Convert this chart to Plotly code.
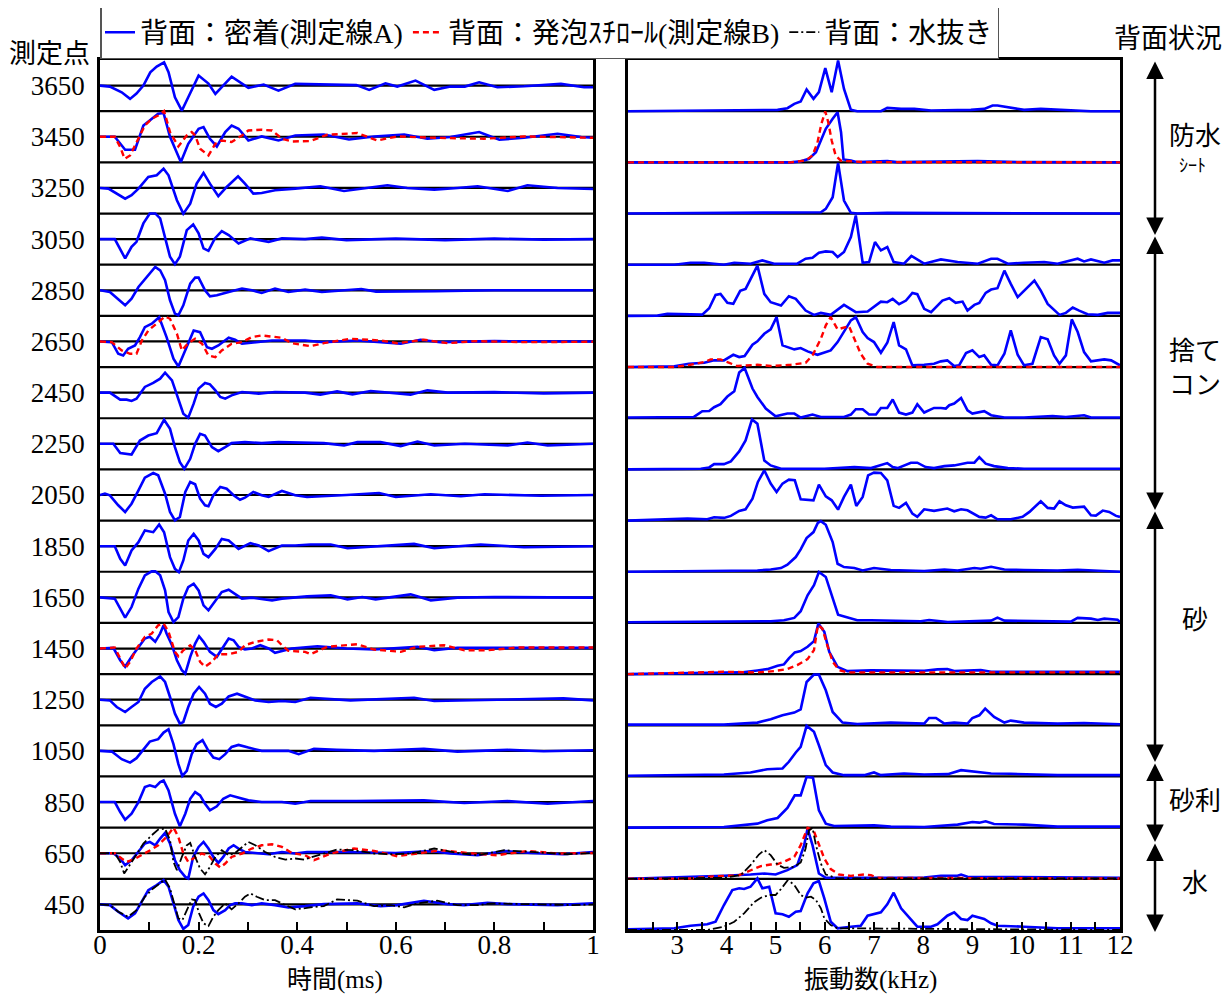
import plotly.graph_objects as go

# ---------------- data ----------------
ROW_LABELS = [3650, 3450, 3250, 3050, 2850, 2650, 2450, 2250, 2050,
              1850, 1650, 1450, 1250, 1050, 850, 650, 450]

# time waveforms: (time ms, amplitude)   A=密着, B=発泡ｽﾁﾛｰﾙ, W=水抜き
wave_A_3650 = [(0,0),(0.02,-1),(0.044,-6.7),(0.061,-13.3),(0.074,-8),(0.088,0),(0.102,13.3),(0.115,19),(0.13,23.3),(0.139,13.3),(0.152,-11.7),(0.166,-25),(0.179,-11.7),(0.2,10),(0.22,2),(0.234,-8.3),(0.267,9),(0.301,-2.3),(0.332,1),(0.362,-5),(0.396,1.7),(0.45,1),(0.52,0.5),(0.546,-4.3),(0.579,2.3),(0.603,-1),(0.64,5),(0.678,-4.3),(0.711,-1),(0.74,-1),(0.769,3.3),(0.806,-1.7),(0.86,-0.7),(0.935,1.7),(0.982,-1.7),(1.0,-1.7)]
wave_A_3450 = [(0,0),(0.03,0),(0.051,-13),(0.071,-13),(0.088,11.3),(0.105,18),(0.118,23),(0.129,23.7),(0.142,0),(0.164,-25.3),(0.179,-7),(0.2,8),(0.21,9.7),(0.223,-2),(0.237,-9.7),(0.254,4.7),(0.267,11.3),(0.281,8),(0.301,-3.7),(0.328,0.3),(0.362,-3.7),(0.396,1.3),(0.454,2.3),(0.505,-2.7),(0.556,0.3),(0.617,2.3),(0.664,-2),(0.711,-0.3),(0.769,4.7),(0.81,-3),(0.86,-1),(0.928,3),(0.976,-0.3),(1.0,-1)]
wave_B_3450 = [(0,0),(0.03,0),(0.041,-10.3),(0.05,-22),(0.061,-18.7),(0.078,-2),(0.091,11.3),(0.105,18),(0.118,21.3),(0.13,25.7),(0.142,4.7),(0.159,-9.7),(0.176,1.3),(0.186,4.7),(0.193,1.3),(0.203,-12),(0.22,-18.7),(0.234,-7),(0.247,-3.7),(0.267,-5.3),(0.288,1.3),(0.301,6.3),(0.328,7),(0.349,6.3),(0.369,-2),(0.389,-4.7),(0.427,-4.3),(0.461,2),(0.522,3.7),(0.562,-3.7),(0.603,0.3),(0.68,-1),(0.779,-2),(0.86,0.3),(0.95,-0.3),(1.0,-1)]
wave_A_3250 = [(0,0),(0.017,-0.7),(0.051,-10.7),(0.064,-7.3),(0.078,-0.7),(0.098,11),(0.115,12.7),(0.129,19.3),(0.139,12.7),(0.156,-12.3),(0.169,-25.7),(0.183,-15.7),(0.196,4.3),(0.21,15),(0.223,4.3),(0.24,-8.3),(0.257,1),(0.28,11.7),(0.294,4.3),(0.311,-5.7),(0.328,-5),(0.355,-2.3),(0.396,-0.7),(0.447,1.7),(0.495,-3),(0.535,-0.7),(0.583,2.7),(0.623,0),(0.678,-1.7),(0.725,0),(0.766,1.7),(0.827,-3),(0.867,2.7),(0.928,0),(1.0,-1)]
wave_A_3050 = [(0,0),(0.03,0),(0.051,-19.3),(0.064,-7.7),(0.074,-2.7),(0.088,15.7),(0.101,25.7),(0.112,25.7),(0.122,20.7),(0.132,2.3),(0.142,-17.7),(0.152,-25),(0.162,-17.7),(0.176,9),(0.189,14.7),(0.2,5.7),(0.21,-9.3),(0.22,-11.7),(0.233,0.7),(0.247,8),(0.261,4),(0.281,-4.3),(0.305,0.7),(0.342,-2.7),(0.369,0.7),(0.416,0),(0.45,1.5),(0.5,-1),(0.6,0.5),(0.7,-1),(0.8,0.5),(0.9,-0.5),(1.0,0)]
wave_A_2850 = [(0,0),(0.02,-1.7),(0.051,-15),(0.064,-8.3),(0.078,3.3),(0.098,15),(0.112,23.3),(0.122,20),(0.132,10),(0.142,-10),(0.152,-23.3),(0.159,-25),(0.169,-15),(0.183,6.7),(0.193,12.7),(0.2,12.7),(0.213,0),(0.223,-6),(0.237,-5),(0.261,-1.7),(0.288,1.7),(0.308,0),(0.328,-2.7),(0.355,1.7),(0.382,-1.7),(0.416,0.7),(0.45,-1.7),(0.53,1.3),(0.56,-1.3),(0.68,-1),(0.8,0),(1.0,0)]
wave_A_2650 = [(0,0),(0.024,-0.7),(0.037,-12.3),(0.047,-14),(0.057,-7.3),(0.071,-4),(0.081,4.3),(0.091,14.3),(0.105,17.7),(0.12,24.3),(0.135,4.3),(0.149,-17.3),(0.159,-25),(0.173,-9),(0.19,11),(0.203,9.3),(0.217,-5.7),(0.227,-7.3),(0.24,-4),(0.261,3.7),(0.274,1.7),(0.288,-2.3),(0.315,-0.7),(0.349,1),(0.416,1),(0.454,-0.7),(0.522,1),(0.61,-2.3),(0.65,1.7),(0.69,-0.7),(0.8,0.3),(1.0,0)]
wave_B_2650 = [(0,0),(0.024,-0.7),(0.044,-9),(0.061,-12.3),(0.074,-12.3),(0.085,1),(0.098,11),(0.118,19.3),(0.132,25),(0.142,22.7),(0.156,7.7),(0.166,-9),(0.179,-1.7),(0.193,2.7),(0.207,-2.3),(0.22,-14),(0.234,-15.7),(0.247,-9),(0.267,-2.3),(0.288,-0.7),(0.308,4.3),(0.328,6),(0.349,5),(0.369,3.7),(0.389,-1.7),(0.427,-4.7),(0.454,-1.7),(0.508,2.7),(0.569,1),(0.603,-1.7),(0.657,1.7),(0.705,-1.7),(0.76,0.3),(0.86,-0.7),(1.0,-0.3)]
wave_A_2450 = [(0,0),(0.02,0),(0.041,-7),(0.054,-7),(0.064,-8.3),(0.074,-6),(0.091,5.7),(0.108,9.7),(0.122,14),(0.132,20),(0.146,12.3),(0.159,-7.7),(0.169,-21),(0.179,-25),(0.19,-11),(0.2,4),(0.213,9.7),(0.223,8.3),(0.234,2.3),(0.244,-4.3),(0.254,-6),(0.267,-2.7),(0.288,0.7),(0.322,-1),(0.355,0.7),(0.416,0),(0.447,-2),(0.481,1.3),(0.512,-1.7),(0.549,1.7),(0.59,-0.3),(0.63,-2),(0.664,2.3),(0.705,0),(0.8,0.5),(0.9,-0.7),(1.0,0)]
wave_A_2250 = [(0,0),(0.027,0),(0.041,-9.3),(0.058,-10.7),(0.064,-10.7),(0.081,3.3),(0.098,8.3),(0.115,10.7),(0.13,24),(0.142,15),(0.152,-3.3),(0.162,-18.3),(0.171,-25),(0.183,-15),(0.193,0),(0.203,10),(0.213,8.3),(0.227,-3.3),(0.24,-7.3),(0.254,-3.3),(0.267,0.7),(0.294,1.7),(0.328,0.7),(0.362,1.7),(0.416,0.7),(0.454,0.7),(0.495,-1.7),(0.522,1.7),(0.569,1.7),(0.61,-2.3),(0.644,2.3),(0.678,-1.7),(0.74,0),(0.827,-1.7),(0.867,1.3),(0.908,-1.7),(1.0,0)]
wave_A_2050 = [(0,0),(0.01,1.3),(0.02,-0.3),(0.037,-10.3),(0.051,-17),(0.064,-8.7),(0.078,4.7),(0.091,17.3),(0.108,22),(0.118,19.7),(0.132,1.3),(0.142,-17),(0.152,-25.3),(0.162,-22),(0.173,3),(0.183,13),(0.193,10.7),(0.203,-3.7),(0.213,-10.3),(0.22,-11.3),(0.23,-0.3),(0.244,8),(0.257,6.3),(0.271,-0.3),(0.284,-4.7),(0.294,-2.7),(0.311,3),(0.328,-0.3),(0.342,-2),(0.369,4),(0.396,-0.3),(0.42,-2),(0.5,0),(0.566,2),(0.6,-2),(0.671,0.7),(0.732,-1.3),(0.78,0.7),(0.895,-0.7),(1.0,0)]
wave_A_1850 = [(0,0),(0.03,0),(0.041,-12.7),(0.051,-19.3),(0.064,-4.3),(0.078,4),(0.091,15.7),(0.108,14),(0.12,21.7),(0.13,14),(0.142,-11),(0.152,-22.7),(0.16,-26),(0.169,-14.3),(0.179,5.7),(0.19,12.3),(0.2,5.7),(0.21,-7.7),(0.22,-11),(0.234,-2.7),(0.247,7.3),(0.261,5.7),(0.281,-2.7),(0.305,3),(0.322,0.7),(0.342,-5),(0.369,0.7),(0.396,0.7),(0.427,1.7),(0.468,1.7),(0.502,-2),(0.556,-0.3),(0.637,2.3),(0.678,-2),(0.725,0),(0.772,1.7),(0.86,-1),(1.0,0)]
wave_A_1650 = [(0,0),(0.03,-1.3),(0.051,-20.3),(0.064,-9.7),(0.078,8.7),(0.091,22),(0.105,26),(0.112,26),(0.122,22),(0.132,7),(0.139,-14.7),(0.149,-24.7),(0.159,-19.7),(0.169,-1.3),(0.179,10.3),(0.19,13.7),(0.2,7),(0.21,-8),(0.22,-13),(0.234,-3),(0.247,5.3),(0.261,7.7),(0.274,3.7),(0.288,-1.3),(0.308,-0.3),(0.328,-1.3),(0.349,-3),(0.369,-1.3),(0.396,-0.3),(0.42,1),(0.468,2),(0.502,-2),(0.532,0.3),(0.559,-2),(0.63,3),(0.671,-3),(0.725,-0.3),(0.8,0.3),(1.0,-0.3)]
wave_A_1450 = [(0,0),(0.027,0.7),(0.041,-11.7),(0.051,-18.3),(0.064,-8.3),(0.078,1.7),(0.091,10),(0.101,11.7),(0.112,6.7),(0.122,15),(0.129,23.3),(0.135,15),(0.146,3.3),(0.156,-11.7),(0.166,-21.7),(0.173,-25),(0.183,-8.3),(0.193,5),(0.201,12.3),(0.21,6.7),(0.223,-3.3),(0.237,-8.3),(0.25,1.7),(0.261,10),(0.271,8.3),(0.281,1.7),(0.294,-1),(0.308,0),(0.325,3.3),(0.342,0),(0.355,-4.3),(0.369,-2.3),(0.389,0),(0.441,2.3),(0.5,0),(0.556,-1),(0.644,1.7),(0.678,-1.7),(0.725,0.7),(0.86,0.7),(1.0,0.7)]
wave_B_1450 = [(0,0),(0.03,1),(0.041,-10),(0.051,-20),(0.061,-13.3),(0.074,0),(0.091,11.7),(0.105,15),(0.118,23.3),(0.129,25),(0.139,16.7),(0.152,-3.3),(0.159,-7.7),(0.169,-1.7),(0.183,3.3),(0.193,-1.7),(0.203,-13.3),(0.213,-18.3),(0.227,-13.3),(0.24,-5.7),(0.261,-5.7),(0.281,-3.3),(0.294,3.3),(0.315,6.7),(0.342,9),(0.359,8.3),(0.369,3.3),(0.382,-2.3),(0.416,-3.3),(0.427,-5.7),(0.461,1.7),(0.522,4.3),(0.556,-1),(0.61,-3.3),(0.644,1.7),(0.698,3.3),(0.739,-1.7),(0.786,-1.7),(0.847,1),(1.0,1)]
wave_A_1250 = [(0,0),(0.02,-0.7),(0.034,-7.3),(0.051,-12.3),(0.064,-7.3),(0.078,-2.3),(0.091,11),(0.105,17.7),(0.122,23.3),(0.132,17.7),(0.142,2.7),(0.152,-14),(0.162,-24),(0.169,-22.3),(0.179,-7.3),(0.19,6),(0.201,12.7),(0.213,6),(0.223,-4),(0.235,-7.3),(0.247,-4),(0.261,3.3),(0.278,6),(0.294,3.3),(0.315,-0.7),(0.342,-2.3),(0.369,-1.3),(0.396,-2.3),(0.427,2),(0.508,-0.7),(0.637,2),(0.678,-1.3),(0.78,0),(0.94,1.3),(1.0,-0.7)]
wave_A_1050 = [(0,0),(0.024,-0.7),(0.044,-8.3),(0.061,-11.7),(0.074,-7.3),(0.088,1.7),(0.101,9.3),(0.118,11.7),(0.129,18.3),(0.139,21.7),(0.149,6.7),(0.159,-13.3),(0.167,-25),(0.176,-20),(0.186,-3.3),(0.196,6.7),(0.208,10.7),(0.22,0),(0.23,-6.7),(0.242,-8.3),(0.254,-3.3),(0.267,4),(0.281,6),(0.301,3.3),(0.328,0),(0.355,0),(0.382,0),(0.403,-3.3),(0.434,2),(0.48,1),(0.556,0),(0.657,2),(0.725,-0.7),(0.827,1),(0.9,-0.3),(1.0,0.7)]
wave_A_850 = [(0,0),(0.03,0),(0.041,-10),(0.051,-17.7),(0.064,-11.7),(0.078,0),(0.091,15),(0.101,16.7),(0.112,15),(0.122,20),(0.129,21.7),(0.139,11.7),(0.152,-11.7),(0.162,-24.3),(0.173,-11.7),(0.183,3.3),(0.193,10),(0.203,6.7),(0.213,-1.7),(0.223,-8.3),(0.237,-4.3),(0.25,3.3),(0.264,6.7),(0.281,4.3),(0.301,1.7),(0.328,0),(0.369,0),(0.396,-1.7),(0.427,1),(0.52,1),(0.657,1.7),(0.739,-1),(0.827,1),(0.908,-1.7),(1.0,1)]
wave_A_650 = [(0,0),(0.027,0),(0.041,-5.3),(0.051,-12),(0.064,-7),(0.078,1.3),(0.091,9.7),(0.101,11.3),(0.112,8),(0.122,14.7),(0.132,20.3),(0.142,9.7),(0.152,-7),(0.162,-17),(0.173,-23.7),(0.179,-25.3),(0.189,-3.7),(0.2,6.3),(0.21,11.3),(0.22,4.7),(0.23,-3.7),(0.24,-9.7),(0.25,-3.7),(0.261,4.7),(0.271,8),(0.281,4.7),(0.294,1.3),(0.315,0.3),(0.342,-1),(0.369,1.3),(0.396,-0.3),(0.42,1.3),(0.5,1.3),(0.6,0.3),(0.671,2.3),(0.711,-0.3),(0.766,-2),(0.82,2.3),(0.874,0.3),(0.94,-1),(1.0,1.3)]
wave_B_650 = [(0,0),(0.03,0),(0.044,-5.3),(0.054,-8.7),(0.068,-6.3),(0.085,-2),(0.102,3),(0.118,8),(0.135,16.3),(0.149,25.7),(0.159,16.3),(0.169,-0.3),(0.179,-8.7),(0.189,-5.3),(0.206,-0.3),(0.22,-2),(0.234,-10.3),(0.244,-14.3),(0.254,-10.3),(0.267,-3.7),(0.288,-0.3),(0.308,4.7),(0.328,8),(0.349,9),(0.369,6.3),(0.389,0.3),(0.416,-2),(0.434,-7),(0.468,-0.3),(0.515,4.7),(0.556,2.3),(0.603,-3),(0.657,0.3),(0.691,3),(0.758,-0.3),(0.806,-2),(0.867,2.3),(0.93,-0.3),(1.0,0.3)]
wave_W_650 = [(0,0),(0.03,0),(0.041,-8.7),(0.049,-20.3),(0.058,-13.7),(0.071,-3.7),(0.088,9.7),(0.105,18),(0.118,23.7),(0.132,24.7),(0.142,13),(0.149,-8.7),(0.156,-17),(0.166,-3.7),(0.176,8),(0.183,10.3),(0.193,-3.7),(0.203,-15.3),(0.213,-21),(0.223,-13.7),(0.234,-3.7),(0.247,3),(0.261,-2),(0.274,0.3),(0.288,6.3),(0.301,11.3),(0.315,8),(0.335,1.3),(0.355,-3.7),(0.376,-6.3),(0.396,-5.3),(0.414,-6.3),(0.454,-0.3),(0.481,3.7),(0.515,3),(0.556,-0.3),(0.59,-1),(0.63,-0.3),(0.678,4.7),(0.725,0.3),(0.766,-2),(0.82,3),(0.874,1.3),(0.948,-1),(1.0,0.3)]
wave_A_450 = [(0,0),(0.02,-0.7),(0.037,-7.3),(0.057,-14),(0.071,-9),(0.085,2.7),(0.098,14.3),(0.115,19.3),(0.129,24.3),(0.139,17.7),(0.149,1),(0.159,-15.7),(0.169,-24.5),(0.179,-20.7),(0.189,-2.3),(0.2,7.7),(0.21,11),(0.22,4.3),(0.23,-5.7),(0.24,-9.7),(0.254,-5.7),(0.264,-0.7),(0.274,1),(0.288,1),(0.308,-0.7),(0.328,1),(0.355,-0.7),(0.382,-3),(0.416,-1.7),(0.454,0.3),(0.522,1),(0.569,-1.7),(0.603,-0.7),(0.657,3.7),(0.705,0.3),(0.739,-0.7),(0.786,1.7),(0.827,0.3),(0.928,-0.7),(1.0,1)]
wave_W_450 = [(0,0),(0.02,-0.7),(0.037,-7.3),(0.057,-12.3),(0.074,-5.7),(0.091,7.7),(0.108,16),(0.122,21),(0.132,25),(0.142,16),(0.152,-2.3),(0.159,-14),(0.167,-15.7),(0.176,-5.7),(0.186,5),(0.193,4.3),(0.201,-9),(0.21,-19),(0.22,-21.7),(0.23,-12.3),(0.24,-5.7),(0.254,1),(0.267,-5),(0.281,1),(0.294,7.7),(0.305,11),(0.318,7.7),(0.335,4.3),(0.355,4.3),(0.376,-0.7),(0.396,-5),(0.427,-3),(0.454,-1.7),(0.481,5),(0.522,3.7),(0.556,-1.7),(0.59,-0.7),(0.617,-3),(0.644,1),(0.684,3.7),(0.725,-0.7),(0.766,-0.7),(0.793,1),(0.86,0.3),(0.96,-0.7),(1.0,0)]

# spectra: (frequency kHz, amplitude)
spec_A_3650 = [(2,0),(4.63,0.7),(5.04,1.3),(5.24,3),(5.38,7.3),(5.51,9.7),(5.63,21.7),(5.77,12.3),(5.88,19),(6.01,43),(6.14,19),(6.27,50.7),(6.39,22.3),(6.53,1.3),(6.66,0),(7.14,0),(7.27,3.3),(7.55,2.3),(7.82,2.3),(8.16,0.7),(8.97,1.3),(9.24,2.3),(9.41,5.7),(9.51,5.7),(9.78,3.3),(10.05,1.3),(10.39,2.3),(10.73,1.3),(11.41,0),(12,0)]
spec_A_3450 = [(2,0),(5.31,0),(5.51,1),(5.68,3.6),(5.82,10.2),(5.92,21.9),(6.02,33.6),(6.16,43.6),(6.26,50.2),(6.33,30.2),(6.38,2.9),(6.53,1.9),(6.66,0.2),(7.27,1.2),(7.47,0.2),(9.11,1.2),(10.05,0.2),(12,0)]
spec_B_3450 = [(2,0),(5.31,0),(5.61,1.9),(5.75,6.9),(5.85,19.6),(5.93,38.6),(6.01,50.9),(6.07,40.2),(6.14,21.9),(6.22,6.9),(6.33,1.6),(6.6,0.9),(6.8,0.2),(12,0)]
spec_A_3250 = [(2,0),(4.63,0.7),(5.92,1.3),(6.02,4.7),(6.16,16.3),(6.27,50.7),(6.39,13),(6.53,0.7),(6.66,0),(7.27,0.7),(9.38,0.7),(12,0)]
spec_A_3050 = [(2,0),(2.94,0),(3.27,2),(3.55,2),(3.95,0),(4.16,2),(4.49,1),(4.73,4.3),(4.97,1),(5.44,1),(5.61,6),(5.75,7),(5.88,12),(6.02,13.3),(6.16,12.7),(6.26,7.7),(6.39,12.7),(6.53,27.7),(6.63,49.3),(6.77,2),(6.9,2.7),(7.02,22.7),(7.14,14.3),(7.27,17.7),(7.4,2.7),(7.61,1),(7.76,8.7),(8.02,1),(8.36,5.3),(8.7,2.7),(9.11,1),(9.38,6),(9.51,6),(9.72,1),(10.05,2),(10.46,2.7),(10.73,1),(11.0,4.3),(11.14,6),(11.27,3.3),(11.41,5.3),(11.68,2),(11.85,4.3),(12,4.3)]
spec_A_2850 = [(2,0),(2.6,0.3),(2.8,2),(3.27,2),(3.51,1.3),(3.65,7.7),(3.78,21),(3.88,22),(4.02,13),(4.14,12),(4.28,25),(4.39,27),(4.63,50.3),(4.77,22),(4.9,13.7),(5.11,10.3),(5.27,19.7),(5.41,17),(5.61,5.3),(5.78,1),(5.92,3),(6.12,1),(6.39,11),(6.63,3.7),(6.87,4.3),(7.14,14.3),(7.27,13.7),(7.38,17),(7.51,11.7),(7.65,15.3),(7.78,23),(7.88,21.7),(8.02,7),(8.16,3.7),(8.39,15.3),(8.53,17.7),(8.66,13),(8.8,14.3),(8.9,5.3),(9.04,11),(9.14,13),(9.27,23),(9.38,26.3),(9.51,27.7),(9.65,45.3),(9.78,32),(9.92,18.7),(10.26,35.3),(10.39,25.3),(10.53,12),(10.77,1),(10.9,3),(11.04,8.3),(11.17,5.3),(11.34,1.7),(11.55,1),(11.75,3),(12,3)]
spec_A_2650 = [(2,0),(2.6,0.7),(2.94,0.7),(3.24,3.3),(3.55,4.3),(3.75,6.7),(3.95,6.7),(4.14,12.3),(4.26,10),(4.37,11),(4.53,22.3),(4.63,25.7),(4.77,33.3),(4.9,37.7),(5.02,50),(5.14,21.7),(5.38,17.7),(5.51,19),(5.65,15.7),(5.85,12.3),(6.12,16.7),(6.26,25),(6.39,35),(6.53,46.7),(6.63,50),(6.77,35),(6.87,29),(7.0,25),(7.14,14.3),(7.27,24.3),(7.4,45),(7.51,21.7),(7.65,17.7),(7.78,1.7),(8.02,2.3),(8.22,3.3),(8.36,5.7),(8.49,6.7),(8.63,1),(8.73,1.7),(8.87,14),(9.0,16.7),(9.14,10),(9.24,11.7),(9.38,2.3),(9.51,1.7),(9.65,13.3),(9.78,36.7),(9.92,12.3),(10.05,1.7),(10.22,3.3),(10.39,30),(10.53,27.7),(10.66,11.7),(10.77,3.3),(10.9,11.7),(11.02,47.7),(11.14,35),(11.27,15),(11.41,5.7),(11.68,7.7),(11.82,6.7),(12,1.7)]
spec_B_2650 = [(2,0),(2.94,0),(3.27,2.3),(3.55,5),(3.68,7.7),(3.88,7.7),(4.02,5),(4.22,1),(4.63,2.3),(4.9,1),(5.31,2.3),(5.61,4.3),(5.75,11.7),(5.92,28.3),(6.02,41.7),(6.12,50),(6.26,37.7),(6.39,40),(6.49,41),(6.6,28.3),(6.73,13.3),(6.87,3.3),(7.07,0),(12,0)]
spec_A_2450 = [(2,0.7),(3.34,1.3),(3.51,7),(3.65,7.3),(3.75,11),(3.88,14),(4.02,21.7),(4.16,27),(4.26,45.7),(4.37,50.3),(4.53,29.7),(4.63,21.3),(4.8,9.7),(5.0,2),(5.24,4.7),(5.38,4.7),(5.51,0.7),(5.75,3.7),(5.92,1.3),(6.39,1.3),(6.53,3.7),(6.63,9),(6.77,9),(6.9,3.7),(7.04,3.7),(7.14,10.3),(7.27,10.3),(7.38,18.7),(7.51,5.7),(7.65,3.7),(7.78,5.7),(7.88,14),(8.02,5.7),(8.22,10.3),(8.36,10.3),(8.46,9.7),(8.53,13),(8.63,14.7),(8.77,20.3),(8.9,8),(9.0,4.7),(9.24,7),(9.38,3),(9.65,0.7),(10.05,0.7),(10.63,2.3),(10.9,1.3),(11.27,3),(11.41,0.7),(12,0.7)]
spec_A_2250 = [(2,0),(3.48,0.7),(3.65,2),(3.75,5.3),(3.95,5.3),(4.09,8),(4.26,18),(4.39,29),(4.52,50),(4.63,45.7),(4.77,9),(4.9,4),(5.11,0.7),(5.99,0.7),(6.6,2.3),(6.94,1.3),(7.27,6.3),(7.38,2.3),(7.48,1.3),(7.75,6.7),(7.88,6.7),(8.05,2.3),(8.22,1.3),(8.43,3.3),(8.63,4),(8.9,6.7),(9.04,6.7),(9.14,12.3),(9.27,5.7),(9.44,3.3),(9.72,1.3),(10.05,0.7),(12,0.7)]
spec_A_2050 = [(2,0),(2.6,0.7),(3.21,2),(3.61,1.3),(3.75,3.3),(3.95,2.7),(4.09,4.7),(4.26,9.7),(4.39,11.3),(4.53,22),(4.64,38.7),(4.77,50.3),(4.9,37),(5.02,28.7),(5.14,37),(5.27,41),(5.39,40.3),(5.51,21.3),(5.77,20.3),(5.88,36),(6.02,24.3),(6.14,20.3),(6.27,11),(6.39,23.7),(6.53,36),(6.64,14.7),(6.77,23.7),(6.88,45.3),(7.0,48),(7.14,47.7),(7.27,40.3),(7.4,14.7),(7.51,12.7),(7.65,17.7),(7.78,7),(7.88,3.7),(8.02,11.3),(8.22,9.7),(8.49,12),(8.63,9.3),(8.77,11.3),(8.9,10.3),(9.14,3.7),(9.27,3),(9.38,5.3),(9.51,1.3),(9.78,1.3),(10.02,3.7),(10.16,8.7),(10.39,19.3),(10.53,12.7),(10.66,12),(10.77,19.3),(10.9,15.3),(11.04,13),(11.27,14),(11.41,5.3),(11.51,5),(11.65,10),(11.78,8.7),(11.92,4.7),(12,3.7)]
spec_A_1850 = [(2,0),(4.63,1.3),(4.9,2.3),(5.11,3.7),(5.24,7),(5.41,14.7),(5.51,22.3),(5.63,33.7),(5.77,39.7),(5.86,49),(5.92,50.7),(6.02,47),(6.16,29.7),(6.26,8),(6.39,4.7),(6.6,3.7),(6.77,1.3),(7.0,3.7),(7.34,1.7),(7.68,1),(8.02,0.7),(8.43,2.3),(8.7,1.3),(9.04,3.7),(9.17,3),(9.38,5),(9.65,2.3),(10.05,1.7),(10.73,1.3),(11.14,2),(12,0)]
spec_A_1650 = [(2,0.7),(4.63,1),(4.9,1.7),(5.17,2.7),(5.38,5),(5.51,11.7),(5.65,27.7),(5.78,37.7),(5.88,51),(6.02,46),(6.16,24.3),(6.27,8.3),(6.43,6),(6.66,2.7),(6.94,2.7),(7.95,1.7),(8.12,3),(8.5,1),(9.38,2.3),(9.51,5.3),(9.65,2.3),(11.0,1.3),(11.14,5),(11.41,4.3),(11.55,3),(11.68,4.3),(11.95,3.3),(12,1)]
spec_A_1450 = [(2,0),(4.29,1.7),(4.63,3.7),(4.83,5),(5.04,8.3),(5.17,9.7),(5.27,15.7),(5.39,21.7),(5.51,23),(5.65,27.3),(5.78,33),(5.87,50.7),(5.99,42.3),(6.09,22.3),(6.26,7.3),(6.46,3),(6.94,3.7),(7.34,3.3),(8.02,3.3),(8.29,4.7),(8.49,5),(8.63,3),(9.17,4),(9.38,2.3),(12,2.3)]
spec_B_1450 = [(2,0),(3.95,2.3),(4.63,1.7),(4.97,3),(5.24,5),(5.44,9),(5.65,15),(5.78,24),(5.86,49),(5.95,45.7),(6.05,29),(6.16,12.3),(6.29,4),(6.46,1.7),(12,1.7)]
spec_A_1250 = [(2,0.7),(3.95,0.7),(4.63,2.7),(4.9,6),(5.14,10),(5.38,12.7),(5.51,16),(5.63,43.3),(5.78,50.7),(5.88,50.7),(6.02,35),(6.16,13.3),(6.36,2.7),(6.66,1.3),(7.34,2.7),(8.02,1.7),(8.12,7.3),(8.26,7.3),(8.43,1.7),(8.63,2.7),(8.9,1.7),(9.0,7.3),(9.14,10),(9.26,16.7),(9.44,8.3),(9.65,2.7),(9.78,4.7),(10.05,2.7),(10.73,1.7),(11.27,2.3),(12,1)]
spec_A_1050 = [(2,0.7),(3.27,2),(3.95,2),(4.49,4),(4.83,7.3),(5.14,8),(5.27,14.7),(5.41,24),(5.51,29.7),(5.63,50.7),(5.78,44.7),(5.88,31.3),(6.02,11.3),(6.16,4),(6.39,1.3),(6.8,1.3),(7.0,4),(7.14,1.3),(7.61,3),(8.02,2),(8.3,2.3),(8.5,2.3),(8.77,6.3),(9.04,4.7),(9.38,3),(9.78,2.7),(10.73,1.3),(12,1.3)]
spec_A_850 = [(2,0),(3.95,0.7),(4.63,4),(4.83,7.3),(5.04,9.7),(5.24,19.7),(5.39,32.3),(5.51,32.3),(5.63,50.7),(5.76,50),(5.88,17.3),(6.02,4),(6.19,1.7),(6.66,1.7),(7.0,2.3),(7.34,1),(8.02,0.7),(8.7,3),(9.0,5.7),(9.14,5),(9.27,6.3),(9.44,3.7),(10.05,3),(10.73,1),(12,1)]
spec_A_650 = [(2,0),(3.61,2),(3.95,3),(4.49,4.3),(4.77,5.3),(5.0,4.3),(5.24,8.7),(5.44,13.7),(5.58,33.7),(5.65,50.3),(5.75,33.7),(5.88,5.3),(6.02,1),(6.66,1),(8.02,1.3),(8.36,3),(8.7,3),(8.77,4.3),(8.9,2),(12,1)]
spec_B_650 = [(2,0),(3.27,0.3),(3.61,2),(3.95,3),(4.22,3),(4.49,8.7),(4.7,12.7),(4.9,14.3),(5.04,14.7),(5.17,17),(5.38,22),(5.51,33.7),(5.65,51),(5.77,48.7),(5.85,38.7),(5.99,20.3),(6.12,9.7),(6.29,4.3),(6.53,3),(6.66,3.7),(6.8,4.3),(6.94,3.7),(7.07,1),(12,0.3)]
spec_W_650 = [(2,0),(3.61,0.3),(3.95,1),(4.29,3.7),(4.49,13.7),(4.66,24.3),(4.77,28.7),(4.9,23.7),(5.04,14.3),(5.17,11),(5.38,12),(5.51,16.3),(5.61,30.3),(5.68,48.7),(5.75,51),(5.82,33.7),(5.92,15.3),(6.02,4.3),(6.26,0.3),(12,0.3)]
spec_A_450 = [(2,0.7),(2.94,1.7),(3.27,4.3),(3.61,5.7),(3.78,8.3),(3.95,25),(4.12,40),(4.26,41.7),(4.36,41),(4.49,43.3),(4.63,51.7),(4.73,41.7),(4.87,43.3),(5.0,16.7),(5.14,15.7),(5.27,13.3),(5.41,18.3),(5.51,19),(5.65,36.7),(5.77,46.7),(5.88,49),(5.99,31.7),(6.12,8.3),(6.26,1.7),(6.53,3.3),(6.73,4.3),(6.87,14.3),(7.14,17.7),(7.27,25.7),(7.4,37.3),(7.55,21.7),(7.75,11),(7.88,3.3),(8.16,3.3),(8.29,5.7),(8.49,14.3),(8.63,17.7),(8.77,11),(8.9,10),(9.0,14.3),(9.24,11),(9.38,6.7),(9.51,4.3),(10.05,3.3),(10.73,1.7),(12,1.7)]
spec_W_450 = [(2,0),(3.61,0),(3.95,3.3),(4.16,8.3),(4.36,16.7),(4.56,27.7),(4.7,32.3),(4.87,35),(5.0,35),(5.11,41),(5.25,50),(5.38,45),(5.51,35),(5.61,32.3),(5.72,33.3),(5.82,30),(5.92,21.7),(5.99,11.7),(6.12,5),(6.26,1.7),(12,0)]

TIME_TICKS = [0, 0.1, 0.2, 0.3, 0.4, 0.5, 0.6, 0.7, 0.8, 0.9, 1.0]
TIME_TICK_TEXT = ['0', '', '0.2', '', '0.4', '', '0.6', '', '0.8', '', '1']
FREQ_TICKS = [2, 2.5, 3, 3.5, 4, 4.5, 5, 5.5, 6, 6.5, 7, 7.5, 8, 8.5, 9, 9.5, 10, 10.5, 11, 11.5, 12]
FREQ_TICK_TEXT = ['', '', '3', '', '4', '', '5', '', '6', '', '7', '', '8', '', '9', '', '10', '', '11', '', '12']

# background condition groups (label text, label centre, vertical span in page px)
GROUPS = [('防水', 133, 60, 235), ('捨て<br>コン', 366, 235, 510), ('砂', 617, 510, 762),
          ('砂利', 798, 762, 842), ('水', 880, 842, 932)]

WAVES = {
    3650: {'A': wave_A_3650}, 3450: {'A': wave_A_3450, 'B': wave_B_3450},
    3250: {'A': wave_A_3250}, 3050: {'A': wave_A_3050}, 2850: {'A': wave_A_2850},
    2650: {'A': wave_A_2650, 'B': wave_B_2650}, 2450: {'A': wave_A_2450},
    2250: {'A': wave_A_2250}, 2050: {'A': wave_A_2050}, 1850: {'A': wave_A_1850},
    1650: {'A': wave_A_1650}, 1450: {'A': wave_A_1450, 'B': wave_B_1450},
    1250: {'A': wave_A_1250}, 1050: {'A': wave_A_1050}, 850: {'A': wave_A_850},
    650: {'A': wave_A_650, 'B': wave_B_650, 'W': wave_W_650},
    450: {'A': wave_A_450, 'W': wave_W_450},
}
SPECS = {
    3650: {'A': spec_A_3650}, 3450: {'A': spec_A_3450, 'B': spec_B_3450},
    3250: {'A': spec_A_3250}, 3050: {'A': spec_A_3050}, 2850: {'A': spec_A_2850},
    2650: {'A': spec_A_2650, 'B': spec_B_2650}, 2450: {'A': spec_A_2450},
    2250: {'A': spec_A_2250}, 2050: {'A': spec_A_2050}, 1850: {'A': spec_A_1850},
    1650: {'A': spec_A_1650}, 1450: {'A': spec_A_1450, 'B': spec_B_1450},
    1250: {'A': spec_A_1250}, 1050: {'A': spec_A_1050}, 850: {'A': spec_A_850},
    650: {'A': spec_A_650, 'B': spec_B_650, 'W': spec_W_650},
    450: {'A': spec_A_450, 'W': spec_W_450},
}

# ---------------- style ----------------
OFF = 8                      # browser body margin
W, H = 1232 - OFF, 995 - OFF
SERIF = 'Liberation Serif'
GOTHIC = 'Noto Sans CJK JP'
def serif(s):
    return '<span style="font-family:%s">%s</span>' % (SERIF, s)

def px(x):  # page px -> paper fraction
    return (x - OFF) / W
def py(y):
    return 1 - (y - OFF) / H

NAMES = {
    'A': '背面：密着' + serif('(') + '測定線' + serif('A)'),
    'B': '背面：発泡ｽﾁﾛｰﾙ' + serif('(') + '測定線' + serif('B)'),
    'W': '背面：水抜き',
}
LINES = {
    'A': dict(color='#0000FF', width=2.6),
    'B': dict(color='#FF0000', width=2.4, dash='6px,4px'),
    'W': dict(color='#000000', width=1.8, dash='9px,3px,2px,3px'),
}
NROW = len(ROW_LABELS)
SCALE = 51.2  # amplitude units per row height

X1 = [px(100), px(593)]
X2 = [px(628), px(1120)]
YD = [py(930), py(60)]

fig = go.Figure()
shown = set()
for key in ['A', 'B', 'W']:
    for i, lab in enumerate(ROW_LABELS):
        base_l = NROW - 0.5 - i
        base_r = NROW - 1 - i
        if key in WAVES[lab]:
            pts = WAVES[lab][key]
            fig.add_trace(go.Scatter(
                x=[p[0] for p in pts], y=[base_l + p[1] / SCALE for p in pts],
                mode='lines', line=LINES[key], name=NAMES[key], legendgroup=key,
                showlegend=key not in shown, xaxis='x', yaxis='y', hoverinfo='skip'))
            shown.add(key)
        if key in SPECS[lab]:
            pts = SPECS[lab][key]
            fig.add_trace(go.Scatter(
                x=[p[0] for p in pts], y=[base_r + p[1] / SCALE for p in pts],
                mode='lines', line=LINES[key], name=NAMES[key], legendgroup=key,
                showlegend=False, xaxis='x2', yaxis='y2', hoverinfo='skip'))

shapes = []
for k in range(1, NROW):
    for xr, yr in (('x domain', 'y'), ('x2 domain', 'y2')):
        shapes.append(dict(type='line', xref=xr, yref=yr, x0=0, x1=1, y0=k, y1=k,
                           line=dict(color='black', width=2.2), layer='below'))
for i in range(NROW):
    b = NROW - 0.5 - i
    shapes.append(dict(type='line', xref='x domain', yref='y', x0=0, x1=1, y0=b, y1=b,
                       line=dict(color='black', width=2.2), layer='below'))

axis_common = dict(showgrid=False, zeroline=False, showline=True, mirror=True,
                   linecolor='black', linewidth=2.5, automargin=False)
tickfont = dict(family=SERIF, size=27, color='black')

def label(text, x, y, size=26):
    return dict(text=text, x=px(x), y=py(y), xref='paper', yref='paper',
                xanchor='center', yanchor='middle', showarrow=False, borderpad=0,
                font=dict(family=GOTHIC, size=size, color='black'))

annotations = [
    label('測定点', 49, 52, 27),
    label('背面状況', 1168, 36, 27),
    label('時間' + serif('(ms)'), 335, 977, 25),
    label('振動数' + serif('(kHz)'), 870, 977, 25),
    label('ｼｰﾄ', 1192, 164, 18),
]
for text, ly, top, bot in GROUPS:
    annotations.append(dict(text='', x=px(1155), y=py(bot), xref='paper', yref='paper',
                            ax=0, ay=-(bot - top), axref='pixel', ayref='pixel',
                            showarrow=True, arrowhead=2, arrowside='end+start',
                            arrowsize=1.4, arrowwidth=2.5, arrowcolor='black',
                            standoff=0, startstandoff=0))
    annotations.append(label(text, 1195, ly, 26))

fig.update_layout(
    template='none',
    width=W, height=H, margin=dict(l=0, r=0, t=0, b=0, pad=0, autoexpand=False),
    paper_bgcolor='white', plot_bgcolor='white',
    font=dict(family=GOTHIC, size=26, color='black'),
    xaxis=dict(domain=X1, range=[0, 1], tickvals=TIME_TICKS, ticktext=TIME_TICK_TEXT,
               ticks='inside', ticklen=8, tickwidth=2, tickcolor='black', tickfont=tickfont,
               ticklabelstandoff=-11, anchor='y', **axis_common),
    yaxis=dict(domain=YD, range=[0, NROW], tickvals=[NROW - 0.5 - i for i in range(NROW)],
               ticktext=[str(v) for v in ROW_LABELS], ticks='', tickfont=tickfont,
               ticklabelstandoff=7, anchor='x', **axis_common),
    xaxis2=dict(domain=X2, range=[2, 12], tickvals=FREQ_TICKS, ticktext=FREQ_TICK_TEXT,
                ticks='inside', ticklen=8, tickwidth=2, tickcolor='black', tickfont=tickfont,
                ticklabelstandoff=-11, anchor='y2', **axis_common),
    yaxis2=dict(domain=YD, range=[0, NROW], showticklabels=False, ticks='', anchor='x2',
                **axis_common),
    legend=dict(orientation='h', x=px(100), y=py(6), xanchor='left', yanchor='top',
                bordercolor='#555555', borderwidth=1.5, bgcolor='white',
                font=dict(family=GOTHIC, size=28), tracegroupgap=0),
    shapes=shapes, annotations=annotations,
)

fig.write_html('out.html')
